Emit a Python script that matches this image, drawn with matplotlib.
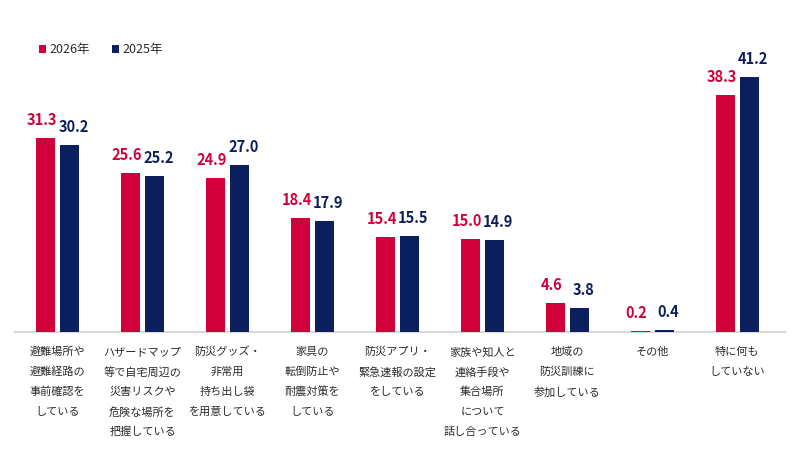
import matplotlib.pyplot as plt
import numpy as np

plt.rcParams['font.family'] = ['Noto Sans CJK JP', 'DejaVu Sans']

# categories (multi-line tick labels) and survey percentages
categories = [
    ["避難場所や", "避難経路の", "事前確認を", "している"],
    ["ハザードマップ", "等で自宅周辺の", "災害リスクや", "危険な場所を", "把握している"],
    ["防災グッズ・", "非常用", "持ち出し袋", "を用意している"],
    ["家具の", "転倒防止や", "耐震対策を", "している"],
    ["防災アプリ・", "緊急速報の設定", "をしている"],
    ["家族や知人と", "連絡手段や", "集合場所", "について", "話し合っている"],
    ["地域の", "防災訓練に", "参加している"],
    ["その他"],
    ["特に何も", "していない"],
]
values_2026 = [31.3, 25.6, 24.9, 18.4, 15.4, 15.0, 4.6, 0.2, 38.3]
values_2025 = [30.2, 25.2, 27.0, 17.9, 15.5, 14.9, 3.8, 0.4, 41.2]
series_names = ["2026年", "2025年"]

red = "#D2003A"
navy = "#0B1F5E"
text_gray = "#2B2B2B"

fig = plt.figure(figsize=(8, 4.69), dpi=100)
ax = fig.add_axes([15/800, 1 - 332/469, 770/800, 310/469])

x = np.arange(len(categories))
w = 0.23
off = 0.141
b1 = ax.bar(x - off, values_2026, w, color=red, label=series_names[0], zorder=3)
b2 = ax.bar(x + off, values_2025, w, color=navy, label=series_names[1], zorder=3)

px = 72 / 100
# value labels, nudged outward a little like the original
for bars, vals, c, dx in [(b1, values_2026, red, -4), (b2, values_2025, navy, 4)]:
    for rect, v in zip(bars, vals):
        ax.annotate(f"{v:.1f}", (rect.get_x() + rect.get_width()/2, v),
                    xytext=(dx * px, 13 * px), textcoords="offset points",
                    ha="center", va="baseline", fontsize=10.5,
                    fontweight="bold", color=c)

# category labels, one text per line
for i, lines in enumerate(categories):
    for k, line in enumerate(lines):
        ax.annotate(line, (i, 0), xycoords=("data", "axes fraction"),
                    xytext=(0, -(20 + 20*k) * px), textcoords="offset points",
                    ha="center", va="center", fontsize=8, color=text_gray)

ax.set_xlim(-0.5, 8.56)
ax.set_ylim(0, 50)
for s in ["top", "left", "right"]:
    ax.spines[s].set_visible(False)
ax.spines["bottom"].set_color("#D9D9D9")
ax.spines["bottom"].set_linewidth(1.5)
ax.set_xticks([])
ax.set_yticks([])

fig.legend(handles=[b1, b2], loc="center left", bbox_to_anchor=(28/800, 1 - 50/469),
           ncol=2, frameon=False, fontsize=9, handlelength=0.55, handleheight=0.55,
           handletextpad=0.3, columnspacing=1.7, labelcolor=text_gray)

fig.savefig("out.png", dpi=100)
